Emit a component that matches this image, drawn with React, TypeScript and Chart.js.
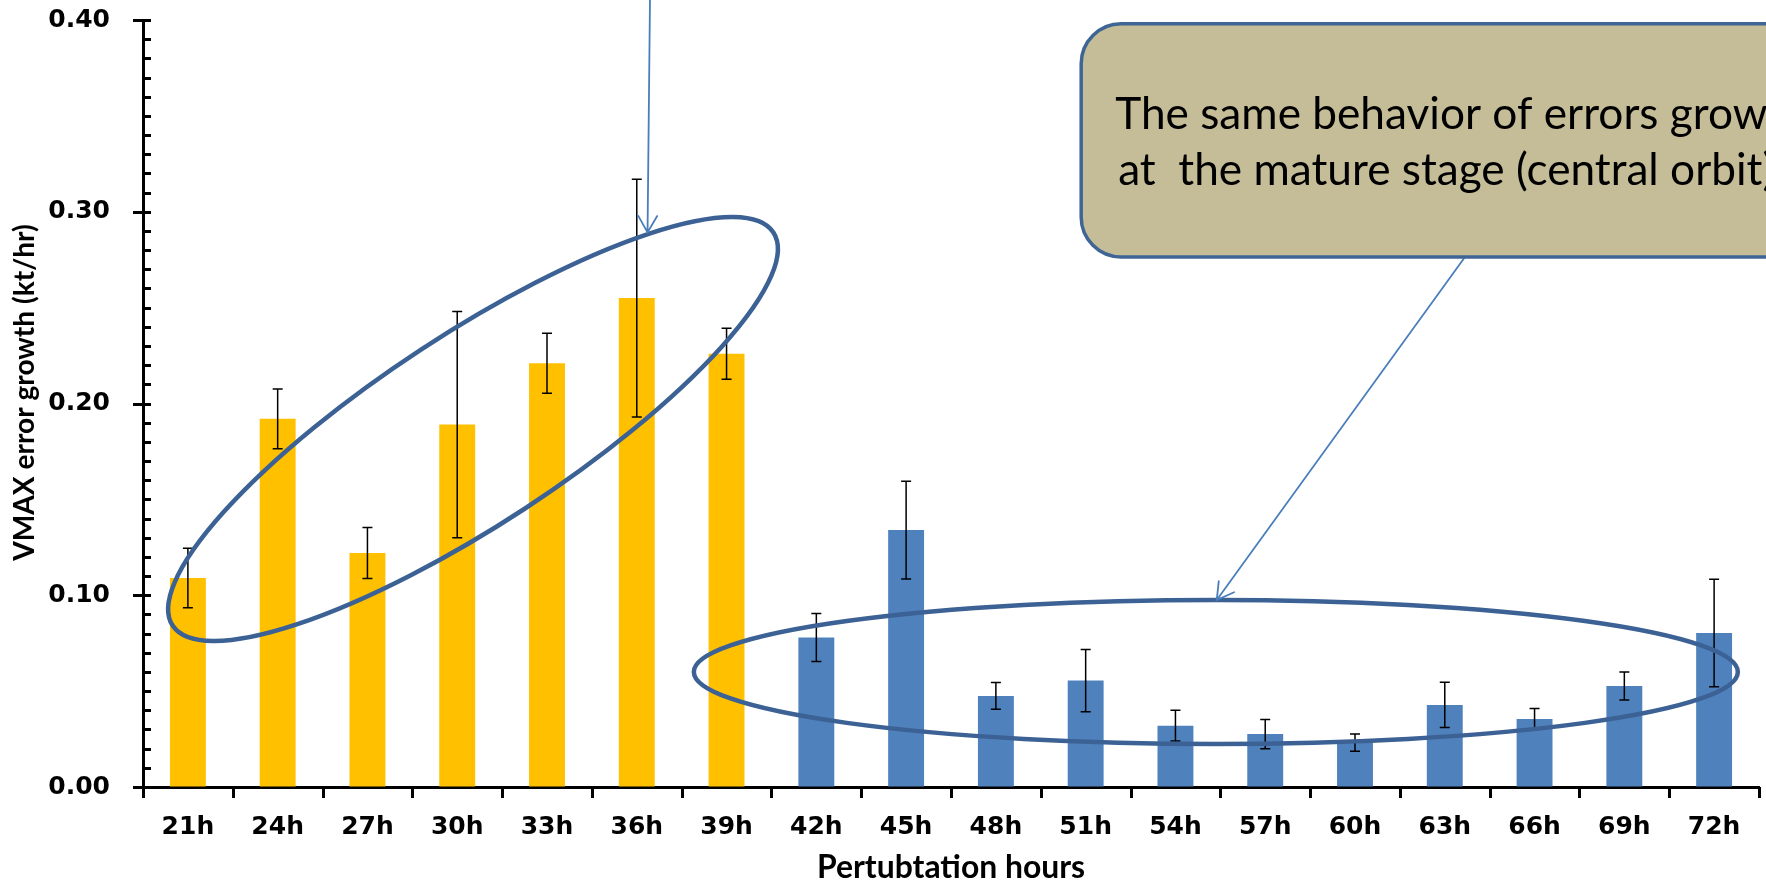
import React, { useEffect, useRef } from 'react';
import { Chart, registerables } from 'chart.js';

Chart.register(...registerables);

// ---- data ----
const categories = ['21h', '24h', '27h', '30h', '33h', '36h', '39h', '42h', '45h', '48h', '51h', '54h', '57h', '60h', '63h', '66h', '69h', '72h'];
const growth = [0.109, 0.192, 0.122, 0.189, 0.221, 0.255, 0.226, 0.078, 0.134, 0.0475, 0.0555, 0.032, 0.0276, 0.0232, 0.0428, 0.0355, 0.0527, 0.0803];
const growthError = [0.0155, 0.0156, 0.0133, 0.059, 0.0156, 0.062, 0.0133, 0.0125, 0.0255, 0.007, 0.0162, 0.008, 0.0076, 0.0045, 0.0118, 0.0055, 0.0073, 0.028];
const stage = ['early', 'early', 'early', 'early', 'early', 'early', 'early', 'mature', 'mature', 'mature', 'mature', 'mature', 'mature', 'mature', 'mature', 'mature', 'mature', 'mature'];
const yTickValues = [0, 0.1, 0.2, 0.3, 0.4];
const yMinorStep = 0.01;
const xTitle = 'Pertubtation hours';
const yTitle = 'VMAX error growth (kt/hr)';
const calloutLines = ['The same behavior of errors growth', 'at  the mature stage (central orbit)'];

// ---- styles ----
const stageColors: Record<string, string> = { early: '#FFC000', mature: '#4F81BD' };
const ellipseColor = '#3C6194';
const arrowColor = '#4A7EBB';
const calloutFill = '#C4BD97';
const calloutBorder = '#3F6595';

function drawArrow(ctx: CanvasRenderingContext2D, x0: number, y0: number, x1: number, y1: number) {
  const ang = Math.atan2(y1 - y0, x1 - x0);
  const len = 19;
  const spread = 0.52;
  ctx.beginPath();
  ctx.moveTo(x0, y0);
  ctx.lineTo(x1, y1);
  ctx.moveTo(x1 - len * Math.cos(ang - spread), y1 - len * Math.sin(ang - spread));
  ctx.lineTo(x1, y1);
  ctx.lineTo(x1 - len * Math.cos(ang + spread), y1 - len * Math.sin(ang + spread));
  ctx.stroke();
}

// font size (px) that makes `text` span `width` pixels in the given family/weight
function fitFont(ctx: CanvasRenderingContext2D, text: string, width: number, family: string, weight: string) {
  ctx.font = `${weight} 40px ${family}`;
  const w = ctx.measureText(text).width;
  return (40 * width) / w;
}

const overlayPlugin = {
  id: 'overlay',
  afterDatasetsDraw(chart: any) {
    const { ctx } = chart;
    const y = chart.scales.y;
    const meta = chart.getDatasetMeta(0);
    ctx.save();
    ctx.strokeStyle = '#000';
    ctx.lineWidth = 1.5;
    meta.data.forEach((bar: any, i: number) => {
      const px = bar.x;
      const top = y.getPixelForValue(growth[i] + growthError[i]);
      const bot = y.getPixelForValue(growth[i] - growthError[i]);
      ctx.beginPath();
      ctx.moveTo(px, top);
      ctx.lineTo(px, bot);
      ctx.moveTo(px - 5, top);
      ctx.lineTo(px + 5, top);
      ctx.moveTo(px - 5, bot);
      ctx.lineTo(px + 5, bot);
      ctx.stroke();
    });
    ctx.restore();
  },
  afterDraw(chart: any) {
    const { ctx, chartArea } = chart;
    const x = chart.scales.x;
    const y = chart.scales.y;
    ctx.save();
    // axis ticks
    ctx.strokeStyle = '#000';
    ctx.lineWidth = 3;
    ctx.lineCap = 'butt';
    const left = chartArea.left;
    const yMax = yTickValues[yTickValues.length - 1];
    const nMinor = Math.round(yMax / yMinorStep);
    for (let i = 0; i <= nMinor; i++) {
      const py = Math.round(y.getPixelForValue(i * yMinorStep)) + 0.5;
      const major = i % 10 === 0;
      ctx.beginPath();
      ctx.moveTo(major ? left - 10 : left, py);
      ctx.lineTo(left + 8, py);
      ctx.stroke();
    }
    const bottom = chartArea.bottom;
    for (let k = 0; k <= categories.length; k++) {
      const px = Math.round(x.getPixelForValue(k - 0.5)) + 0.5;
      ctx.beginPath();
      ctx.moveTo(px, bottom);
      ctx.lineTo(px, bottom + 11);
      ctx.stroke();
    }

    // axis titles
    ctx.fillStyle = '#000';
    ctx.textAlign = 'center';
    ctx.textBaseline = 'middle';
    const ySize = fitFont(ctx, yTitle, 337, 'Lato', 'bold');
    ctx.save();
    ctx.translate(25, y.getPixelForValue(0.2) - 11);
    ctx.rotate(-Math.PI / 2);
    ctx.font = `bold ${ySize.toFixed(1)}px Lato`;
    ctx.fillText(yTitle, 0, 0);
    ctx.restore();
    const xSize = fitFont(ctx, xTitle, 268, 'Lato', 'bold');
    ctx.font = `bold ${xSize.toFixed(1)}px Lato`;
    ctx.textBaseline = 'alphabetic';
    ctx.fillText(xTitle, (chartArea.left + chartArea.right) / 2, chart.height - 4);

    // ellipses
    ctx.strokeStyle = ellipseColor;
    ctx.lineWidth = 4.5;
    ctx.beginPath();
    ctx.ellipse(x.getPixelForValue(3.176), y.getPixelForValue(0.1867), 359, 95, -33.2 * Math.PI / 180, 0, Math.PI * 2);
    ctx.stroke();
    ctx.beginPath();
    ctx.ellipse(x.getPixelForValue(11.45), y.getPixelForValue(0.06), 522, 72, 0, 0, Math.PI * 2);
    ctx.stroke();

    // arrows
    ctx.strokeStyle = arrowColor;
    ctx.lineWidth = 1.8;
    ctx.lineCap = 'round';
    drawArrow(ctx, x.getPixelForValue(5.147), 0, x.getPixelForValue(5.12), y.getPixelForValue(0.2892));
    drawArrow(ctx, x.getPixelForValue(14.225), y.getPixelForValue(0.2764), x.getPixelForValue(11.46), y.getPixelForValue(0.0975));

    // callout box
    const bx = x.getPixelForValue(9.95);
    const by = y.getPixelForValue(0.398);
    const bb = y.getPixelForValue(0.2764);
    const bw = chart.width + 80 - bx;
    const bh = bb - by;
    ctx.beginPath();
    (ctx as any).roundRect(bx, by, bw, bh, 40);
    ctx.fillStyle = calloutFill;
    ctx.fill();
    ctx.strokeStyle = calloutBorder;
    ctx.lineWidth = 3.5;
    ctx.stroke();

    // callout text, sized so the first line reaches the right edge as in the reference
    const tx1 = bx + 34;
    const tx2 = bx + 37;
    const size = fitFont(ctx, 'The same behavior of errors grow', chart.width + 2 - tx1, 'Lato', 'normal');
    ctx.font = `${size.toFixed(1)}px Lato`;
    ctx.fillStyle = '#000';
    ctx.textBaseline = 'alphabetic';
    ctx.textAlign = 'left';
    ctx.fillText(calloutLines[0], tx1, by + 105);
    ctx.fillText(calloutLines[1], tx2, by + 161);
    ctx.restore();
  },
};

export default function App() {
  const canvasRef = useRef<HTMLCanvasElement | null>(null);
  useEffect(() => {
    document.body.style.margin = '0';
    const canvas = canvasRef.current;
    if (!canvas) return;
    const tickFont = { family: 'DejaVu Sans', weight: 'bold' as const, size: 25 };
    const chart = new Chart(canvas, {
      type: 'bar',
      data: {
        labels: categories,
        datasets: [
          {
            data: growth,
            backgroundColor: stage.map((s) => stageColors[s]),
            borderWidth: 0,
            categoryPercentage: 1,
            barPercentage: 0.4,
          },
        ],
      },
      options: {
        animation: false,
        responsive: false,
        devicePixelRatio: 1,
        layout: { padding: { left: 0, right: 7, top: 20, bottom: 0 } },
        plugins: { legend: { display: false }, tooltip: { enabled: false } },
        scales: {
          x: {
            grid: { display: true, drawOnChartArea: false, drawTicks: true, tickLength: 10, color: 'rgba(0,0,0,0)' },
            border: { display: true, color: '#000', width: 3 },
            ticks: { color: '#000', font: tickFont, padding: 15, maxRotation: 0, autoSkip: false },
            title: { display: false },
            afterFit: (s: any) => {
              s.height = 95;
              s.paddingLeft = 0;
              s.paddingRight = 0;
              s.paddingTop = 0;
              s.paddingBottom = 0;
            },
          },
          y: {
            min: 0,
            max: 0.4,
            afterBuildTicks: (s: any) => {
              s.ticks = yTickValues.map((v) => ({ value: v }));
            },
            grid: { display: true, drawOnChartArea: false, drawTicks: true, tickLength: 10, color: 'rgba(0,0,0,0)' },
            border: { display: true, color: '#000', width: 3 },
            ticks: {
              color: '#000',
              font: tickFont,
              padding: 23,
              callback: (v: any) => Number(v).toFixed(2),
            },
            title: { display: false },
            afterFit: (s: any) => {
              s.width = 143;
              s.paddingLeft = 0;
              s.paddingRight = 0;
              s.paddingTop = 0;
              s.paddingBottom = 0;
            },
          },
        },
      },
      plugins: [overlayPlugin],
    });
    return () => chart.destroy();
  }, []);
  return (
    <div style={{ position: 'absolute', left: 0, top: 0, width: 1766, height: 882, background: '#fff' }}>
      <canvas ref={canvasRef} width={1766} height={882} style={{ display: 'block' }} />
    </div>
  );
}
